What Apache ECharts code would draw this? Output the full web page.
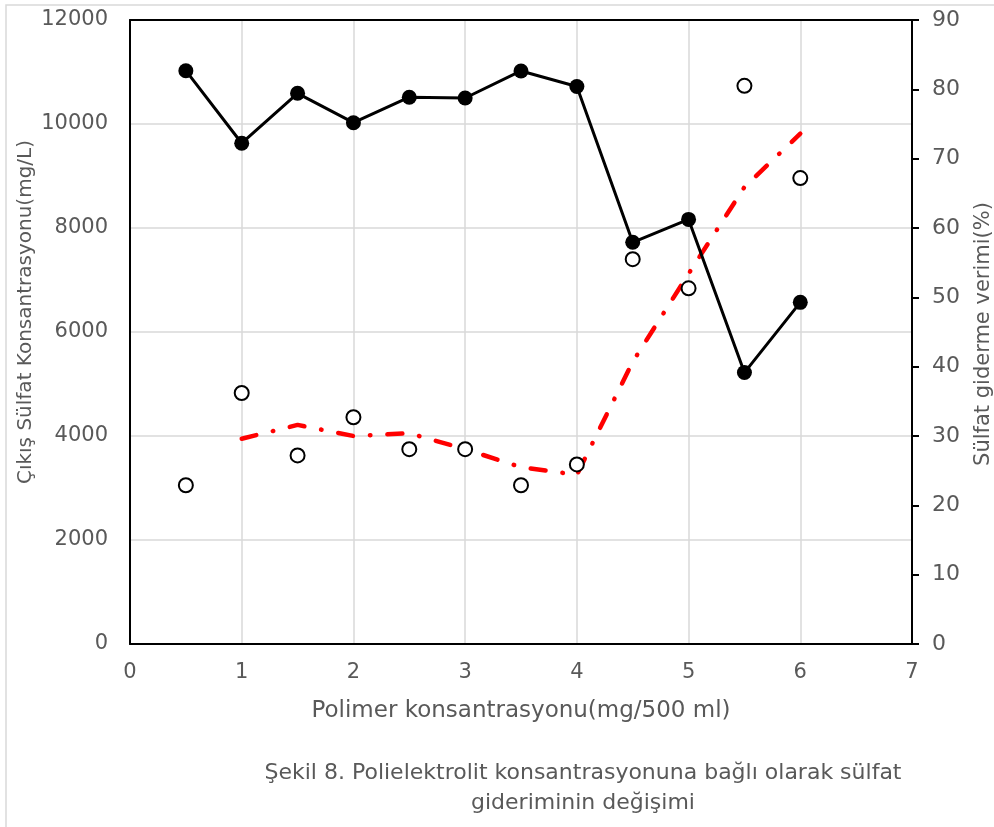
<!DOCTYPE html>
<html>
<head>
<meta charset="utf-8">
<script src="https://cdn.jsdelivr.net/npm/echarts@6/dist/echarts.min.js"></script>
<style>
html,body{margin:0;padding:0;background:#fff;}
#chart{width:994px;height:827px;}
</style>
</head>
<body>
<div id="chart"></div>
<script>
// Polymer concentration (mg/500 ml)
const xValues = [0.5, 1, 1.5, 2, 2.5, 3, 3.5, 4, 4.5, 5, 5.5, 6];
// Outlet sulfate concentration (mg/L) - left axis
const sulfateConc = [11025, 9630, 10590, 10025, 10515, 10500, 11020, 10720, 7725, 8165, 5220, 6570];
// Sulfate removal efficiency (%) - right axis
const removalEff = [22.9, 36.2, 27.2, 32.7, 28.1, 28.1, 22.9, 25.9, 55.5, 51.3, 80.5, 67.2];
// Moving-average trend line (%)
const trendX = [1, 1.5, 2, 2.5, 3, 3.5, 4, 4.5, 5, 5.5, 6];
const trendY = [29.6, 31.6, 30.0, 30.4, 28.1, 25.5, 24.4, 40.7, 53.4, 65.9, 73.6];

const xTitle = 'Polimer konsantrasyonu(mg/500 ml)';
const yLeftTitle = 'Çıkış Sülfat Konsantrasyonu(mg/L)';
const yRightTitle = 'Sülfat giderme verimi(%)';
const caption = 'Şekil 8. Polielektrolit konsantrasyonuna bağlı olarak sülfat\ngideriminin değişimi';

const FONT = 'DejaVu Sans';
const GRAY = '#595959';

const chart = echarts.init(document.getElementById('chart'), null, {renderer: 'canvas'});

function zip(a, b) { return a.map((v, i) => [v, b[i]]); }

const option = {
  backgroundColor: '#fff',
  animation: false,
  grid: {left: 130, top: 20, right: 82, bottom: 183, containLabel: false},
  xAxis: [{
    type: 'value', min: 0, max: 7, interval: 1, position: 'bottom',
    axisLine: {show: true, onZero: false, lineStyle: {color: '#000', width: 2}},
    axisTick: {show: false},
    axisLabel: {color: GRAY, fontSize: 21, fontFamily: FONT, margin: 18},
    splitLine: {show: true, showMinLine: false, showMaxLine: false, lineStyle: {color: '#d9d9d9', width: 1.5}}
  }, {
    type: 'value', min: 0, max: 7, interval: 1, position: 'top',
    axisLine: {show: true, onZero: false, lineStyle: {color: '#000', width: 2}},
    axisTick: {show: false}, axisLabel: {show: false}, splitLine: {show: false}
  }],
  yAxis: [{
    type: 'value', min: 0, max: 12000, interval: 2000, position: 'left',
    axisLine: {show: true, onZero: false, lineStyle: {color: '#000', width: 2}},
    axisTick: {show: false},
    axisLabel: {color: GRAY, fontSize: 21, fontFamily: FONT, margin: 22, formatter: v => String(v)},
    splitLine: {show: true, showMinLine: false, showMaxLine: false, lineStyle: {color: '#d9d9d9', width: 1.5}}
  }, {
    type: 'value', min: 0, max: 90, interval: 10, position: 'right',
    axisLine: {show: true, onZero: false, lineStyle: {color: '#000', width: 2}},
    axisTick: {show: true, inside: false, length: 7, lineStyle: {color: '#000', width: 2}},
    axisLabel: {color: GRAY, fontSize: 22, fontFamily: FONT, margin: 20, formatter: v => String(v)},
    splitLine: {show: false}
  }],
  series: [{
    name: 'conc', type: 'line', xAxisIndex: 0, yAxisIndex: 0,
    data: zip(xValues, sulfateConc),
    symbol: 'circle', symbolSize: 15,
    itemStyle: {color: '#000'},
    lineStyle: {color: '#000', width: 3},
    z: 4
  }, {
    name: 'trend', type: 'line', xAxisIndex: 0, yAxisIndex: 1,
    data: zip(trendX, trendY),
    symbol: 'none', smooth: false,
    lineStyle: {color: '#ff0000', width: 4.5, type: [15, 17, 0.5, 17], cap: 'round'},
    z: 3
  }, {
    name: 'eff', type: 'scatter', xAxisIndex: 0, yAxisIndex: 1,
    data: zip(xValues, removalEff),
    symbol: 'circle', symbolSize: 14,
    itemStyle: {color: '#fff', borderColor: '#000', borderWidth: 2, opacity: 1},
    z: 5
  }],
  graphic: [{
    type: 'rect', silent: true, z: -10,
    shape: {x: 6, y: 5, width: 1200, height: 1200},
    style: {fill: 'none', stroke: '#d9d9d9', lineWidth: 1.5}
  }, {
    type: 'text', x: 521, y: 711,
    style: {text: xTitle, fill: GRAY, fontSize: 23, fontFamily: FONT, textAlign: 'center', align: 'center', textVerticalAlign: 'middle', verticalAlign: 'middle'}
  }, {
    type: 'text', x: 26, y: 312, rotation: Math.PI / 2,
    style: {text: yLeftTitle, fill: GRAY, fontSize: 20, fontFamily: FONT, textAlign: 'center', align: 'center', textVerticalAlign: 'middle', verticalAlign: 'middle'}
  }, {
    type: 'text', x: 984, y: 334, rotation: Math.PI / 2,
    style: {text: yRightTitle, fill: GRAY, fontSize: 21, fontFamily: FONT, textAlign: 'center', align: 'center', textVerticalAlign: 'middle', verticalAlign: 'middle'}
  }, {
    type: 'text', x: 583, y: 788,
    style: {text: caption, fill: GRAY, fontSize: 22, lineHeight: 30, fontFamily: FONT, textAlign: 'center', align: 'center', textVerticalAlign: 'middle', verticalAlign: 'middle'}
  }]
};
chart.setOption(option);
</script>
</body>
</html>
